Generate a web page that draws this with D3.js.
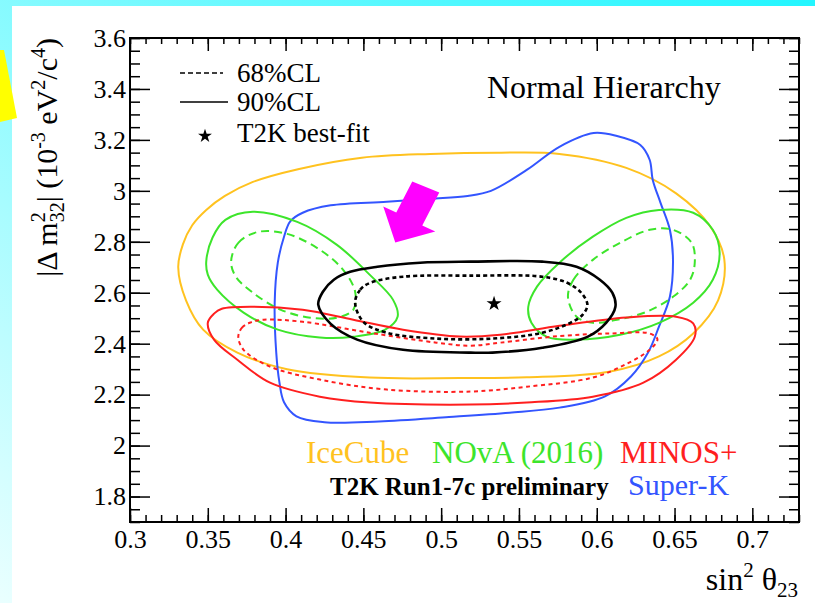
<!DOCTYPE html>
<html>
<head>
<meta charset="utf-8">
<script src="https://cdn.jsdelivr.net/npm/d3@7"></script>
<style>
  html, body { margin: 0; padding: 0; background: #fff; }
  svg { display: block; }
  text { font-family: "Liberation Serif", "Times New Roman", serif; }
</style>
</head>
<body>
<svg id="chart" width="815" height="603"></svg>
<script>
// axis ticks
const xMajor = [0.3, 0.35, 0.4, 0.45, 0.5, 0.55, 0.6, 0.65, 0.7]
const yMajor = [1.8, 2.0, 2.2, 2.4, 2.6, 2.8, 3.0, 3.2, 3.4, 3.6]

// contours, [sin^2 theta23, dm2_32 (1e-3 eV^2)]
const iceCube90 = [[0.331,2.70],[0.334,2.79],[0.340,2.865],[0.349,2.925],[0.361,2.98],[0.379,3.035],[0.408,3.085],[0.449,3.13],[0.493,3.145],[0.538,3.15],[0.576,3.145],[0.619,3.09],[0.651,2.99],[0.673,2.86],[0.682,2.73],[0.678,2.57],[0.662,2.44],[0.640,2.35],[0.608,2.29],[0.555,2.268],[0.512,2.265],[0.454,2.267],[0.401,2.30],[0.369,2.365],[0.347,2.455],[0.336,2.57]]

const superK90 = [[0.399,2.82],[0.403,2.88],[0.411,2.914],[0.429,2.943],[0.465,2.957],[0.493,2.969],[0.517,2.98],[0.532,3.0],[0.555,3.082],[0.576,3.173],[0.598,3.227],[0.613,3.215],[0.628,3.18],[0.634,3.122],[0.636,3.043],[0.641,2.953],[0.647,2.847],[0.649,2.729],[0.647,2.584],[0.640,2.467],[0.633,2.365],[0.622,2.271],[0.605,2.192],[0.576,2.149],[0.544,2.129],[0.505,2.112],[0.46,2.095],[0.425,2.092],[0.407,2.115],[0.399,2.17],[0.396,2.25],[0.394,2.365],[0.393,2.561],[0.395,2.718]]

const novaLeft90 = [[0.349,2.722],[0.353,2.816],[0.3613,2.886],[0.379,2.918],[0.4075,2.878],[0.433,2.788],[0.454,2.671],[0.469,2.573],[0.472,2.506],[0.464,2.455],[0.4435,2.427],[0.422,2.424],[0.395,2.455],[0.373,2.522],[0.356,2.612],[0.350,2.671]]
const novaLeft68 = [[0.365,2.722],[0.3696,2.796],[0.3825,2.839],[0.401,2.831],[0.422,2.769],[0.437,2.69],[0.4447,2.604],[0.4435,2.533],[0.433,2.502],[0.416,2.502],[0.397,2.533],[0.379,2.60],[0.368,2.663]]
const novaRight90 = [[0.556,2.545],[0.5616,2.624],[0.576,2.718],[0.5975,2.82],[0.619,2.894],[0.640,2.925],[0.662,2.914],[0.6746,2.847],[0.679,2.757],[0.6746,2.651],[0.662,2.561],[0.640,2.482],[0.615,2.435],[0.587,2.416],[0.568,2.427],[0.558,2.482]]
const novaRight68 = [[0.5815,2.584],[0.585,2.651],[0.5975,2.729],[0.615,2.796],[0.634,2.847],[0.649,2.847],[0.661,2.796],[0.663,2.718],[0.660,2.651],[0.649,2.584],[0.632,2.525],[0.613,2.494],[0.5975,2.482],[0.587,2.506]]

const minos90 = [[0.350,2.482],[0.354,2.518],[0.359,2.537],[0.379,2.545],[0.411,2.533],[0.4435,2.494],[0.4755,2.455],[0.512,2.428],[0.538,2.435],[0.576,2.47],[0.619,2.503],[0.651,2.506],[0.662,2.48],[0.663,2.427],[0.651,2.337],[0.630,2.247],[0.5975,2.192],[0.555,2.169],[0.519,2.161],[0.454,2.169],[0.422,2.192],[0.390,2.247],[0.369,2.337],[0.354,2.416]]
const minos68 = [[0.3696,2.427],[0.372,2.463],[0.377,2.482],[0.386,2.494],[0.411,2.486],[0.454,2.443],[0.497,2.404],[0.519,2.392],[0.538,2.404],[0.576,2.43],[0.608,2.44],[0.634,2.44],[0.639,2.418],[0.634,2.376],[0.619,2.32],[0.5975,2.267],[0.555,2.231],[0.519,2.212],[0.465,2.22],[0.422,2.259],[0.390,2.31],[0.373,2.376]]

const t2k90 = [[0.421,2.553],[0.424,2.604],[0.431,2.651],[0.4415,2.682],[0.459,2.702],[0.4865,2.718],[0.519,2.722],[0.565,2.722],[0.587,2.702],[0.602,2.651],[0.610,2.60],[0.612,2.545],[0.606,2.482],[0.594,2.427],[0.565,2.384],[0.533,2.365],[0.519,2.365],[0.4755,2.376],[0.446,2.416],[0.429,2.478]]
const t2k68 = [[0.4447,2.561],[0.448,2.612],[0.4544,2.639],[0.4755,2.663],[0.519,2.667],[0.565,2.663],[0.581,2.639],[0.590,2.60],[0.594,2.553],[0.591,2.514],[0.583,2.482],[0.565,2.443],[0.533,2.42],[0.497,2.42],[0.465,2.443],[0.450,2.486]]
const t2kBest = [0.534, 2.557]

const orange = "#ffc21f", green = "#3de52b", red = "#ff1f1f", blue = "#3355ff"

const svg = d3.select("#chart")

// slide background
const defs = svg.append("defs")
const grad = defs.append("linearGradient").attr("id", "bg")
    .attr("x1", 0).attr("y1", 1).attr("x2", 1).attr("y2", 0)
grad.append("stop").attr("offset", 0).attr("stop-color", "#eaffff")
grad.append("stop").attr("offset", 1).attr("stop-color", "#22f6ff")
svg.append("rect").attr("width", 815).attr("height", 603).attr("fill", "url(#bg)")
svg.append("rect").attr("x", 12).attr("y", 6).attr("width", 803).attr("height", 597).attr("fill", "#fff")
svg.append("polygon").attr("points", "0,50 4,50 17,118 0,122").attr("fill", "#ffff00")

const x = d3.scaleLinear().domain([0.3, 0.73]).range([130, 799])
const y = d3.scaleLinear().domain([1.7, 3.6]).range([522, 38])

const line = d3.line()
    .x(d => x(d[0]))
    .y(d => y(d[1]))
    .curve(d3.curveCatmullRomClosed.alpha(0.5))

function contour(data, color, width, dash) {
    svg.append("path")
        .attr("d", line(data))
        .attr("fill", "none")
        .attr("stroke", color)
        .attr("stroke-width", width)
        .attr("stroke-dasharray", dash)
}

contour(iceCube90, orange, 2, null)
contour(superK90, blue, 2, null)
contour(novaLeft90, green, 2, null)
contour(novaRight90, green, 2, null)
contour(novaLeft68, green, 2, "8,5")
contour(novaRight68, green, 2, "8,5")
contour(minos90, red, 2, null)
contour(minos68, red, 2, "4,3.5")
contour(t2k90, "#000", 2.6, null)
contour(t2k68, "#000", 2.6, "4,3")

svg.append("path")
    .attr("d", d3.symbol(d3.symbolStar, 70)())
    .attr("transform", `translate(${x(t2kBest[0])},${y(t2kBest[1])})`)
    .attr("fill", "#000")

// arrow
const tip = [x(0.4705), y(2.797)]
const arrow = [[0, 0], [-12, -36], [1, -30], [17, -61], [44, -50], [27, -17], [40, -11]]
svg.append("polygon")
    .attr("points", arrow.map(p => [tip[0] + p[0], tip[1] + p[1]].join(",")).join(" "))
    .attr("fill", "#ff00ff")

// axes
const fmt = d => String(+d.toFixed(2))
function styleAxis(g) {
    g.select(".domain").remove()
    g.selectAll("line").attr("stroke-width", 1.5)
    g.attr("font-family", "Liberation Serif, serif").attr("font-size", 26)
    g.selectAll("text").attr("fill", "#000")
}

svg.append("g").attr("transform", `translate(0,${y.range()[0]})`)
    .call(d3.axisBottom(x).tickValues(xMajor).tickSizeInner(-14).tickSizeOuter(0).tickPadding(8).tickFormat(fmt))
    .call(styleAxis)
svg.append("g").attr("transform", `translate(0,${y.range()[0]})`)
    .call(d3.axisBottom(x).tickValues(d3.range(0.30, 0.7301, 0.01)).tickSize(-7).tickFormat(""))
    .call(styleAxis)
svg.append("g").attr("transform", `translate(0,${y.range()[1]})`)
    .call(d3.axisTop(x).tickValues(xMajor).tickSize(-13).tickFormat(""))
    .call(styleAxis)
svg.append("g").attr("transform", `translate(0,${y.range()[1]})`)
    .call(d3.axisTop(x).tickValues(d3.range(0.30, 0.7301, 0.01)).tickSize(-6).tickFormat(""))
    .call(styleAxis)

svg.append("g").attr("transform", `translate(${x.range()[0]},0)`)
    .call(d3.axisLeft(y).tickValues(yMajor).tickSizeInner(-20).tickSizeOuter(0).tickPadding(4).tickFormat(fmt))
    .call(styleAxis)
svg.append("g").attr("transform", `translate(${x.range()[0]},0)`)
    .call(d3.axisLeft(y).tickValues(d3.range(1.70, 3.6001, 0.05)).tickSize(-10).tickFormat(""))
    .call(styleAxis)
svg.append("g").attr("transform", `translate(${x.range()[1]},0)`)
    .call(d3.axisRight(y).tickValues(yMajor).tickSize(-20).tickFormat(""))
    .call(styleAxis)
svg.append("g").attr("transform", `translate(${x.range()[1]},0)`)
    .call(d3.axisRight(y).tickValues(d3.range(1.70, 3.6001, 0.05)).tickSize(-10).tickFormat(""))
    .call(styleAxis)

svg.append("rect")
    .attr("x", x.range()[0]).attr("y", y.range()[1])
    .attr("width", x.range()[1] - x.range()[0]).attr("height", y.range()[0] - y.range()[1])
    .attr("fill", "none").attr("stroke", "#000").attr("stroke-width", 2)

// axis titles
const yt = svg.append("text")
    .attr("transform", "translate(57,38) rotate(-90)")
    .attr("text-anchor", "end")
    .attr("font-size", 30)
yt.append("tspan").text("|Δ m")
yt.append("tspan").attr("font-size", 20).attr("dy", -12).text("2")
yt.append("tspan").attr("font-size", 20).attr("dx", -10).attr("dy", 19).text("32")
yt.append("tspan").attr("dy", -7).text("| (10")
yt.append("tspan").attr("font-size", 20).attr("dy", -12).text("-3")
yt.append("tspan").attr("dy", 12).text(" eV")
yt.append("tspan").attr("font-size", 20).attr("dy", -12).text("2")
yt.append("tspan").attr("dy", 12).text("/c")
yt.append("tspan").attr("font-size", 20).attr("dy", -12).text("4")
yt.append("tspan").attr("dy", 12).text(")")

const xt = svg.append("text")
    .attr("x", 798).attr("y", 590)
    .attr("text-anchor", "end")
    .attr("font-size", 32)
xt.append("tspan").text("sin")
xt.append("tspan").attr("font-size", 21).attr("dy", -13).text("2")
xt.append("tspan").attr("dy", 13).text(" θ")
xt.append("tspan").attr("font-size", 21).attr("dy", 7).text("23")

// legend
svg.append("line").attr("x1", 180).attr("x2", 223).attr("y1", 73).attr("y2", 73)
    .attr("stroke", "#000").attr("stroke-width", 1.4).attr("stroke-dasharray", "5,3")
svg.append("line").attr("x1", 180).attr("x2", 228).attr("y1", 102).attr("y2", 102)
    .attr("stroke", "#000").attr("stroke-width", 1.6)
svg.append("path").attr("d", d3.symbol(d3.symbolStar, 60)())
    .attr("transform", "translate(205,136)").attr("fill", "#000")
const legText = [["68%CL", 82], ["90%CL", 111], ["T2K best-fit", 142]]
svg.selectAll(".leg").data(legText).enter().append("text")
    .attr("x", 237).attr("y", d => d[1]).attr("font-size", 27).text(d => d[0])

svg.append("text").attr("x", 487).attr("y", 98).attr("font-size", 32).text("Normal Hierarchy")

// experiment labels
const labels = [
    ["IceCube", orange, 306, 463, 31, "normal"],
    ["NOvA (2016)", green, 432, 463, 31, "normal"],
    ["MINOS+", red, 620, 463, 31, "normal"],
    ["T2K Run1-7c preliminary", "#000", 330, 495, 25, "bold"],
    ["Super-K", blue, 628, 495, 30, "normal"]
]
svg.selectAll(".exp").data(labels).enter().append("text")
    .attr("x", d => d[2]).attr("y", d => d[3])
    .attr("font-size", d => d[4]).attr("font-weight", d => d[5])
    .attr("fill", d => d[1]).text(d => d[0])
</script>
</body>
</html>
